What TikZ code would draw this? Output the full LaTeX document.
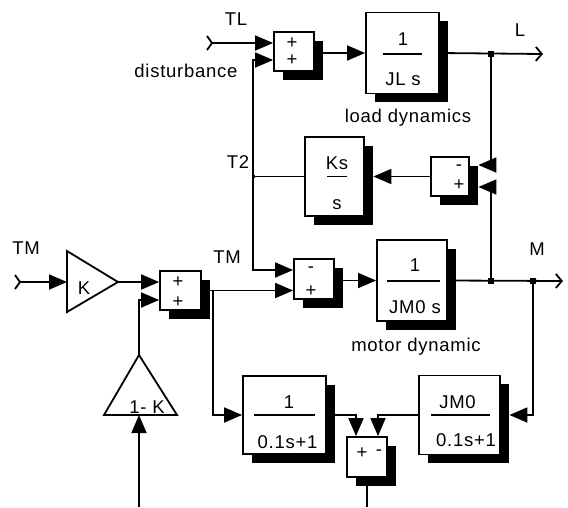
\documentclass[tikz,border=0pt]{standalone}
\usepackage{fontspec}
\newfontfamily\lblfont[LetterSpace=4]{Liberation Sans}
\usetikzlibrary{arrows.meta,shadows}

\tikzset{
  blk/.style={draw, fill=white, line width=1.8pt, inner sep=0pt,
    general shadow={fill=black, shadow xshift=8.5pt, shadow yshift=-8.5pt}},
  sig/.style={line width=1.8pt},
  arr/.style={sig, -{Triangle[length=18pt,width=15pt]}},
  outp/.style={sig, -{Straight Barb[length=6pt,width=14pt]}},
  txt/.style={font=\lblfont\fontsize{18.5}{20}\selectfont, inner sep=0pt},
  dot/.style={fill, rectangle, inner sep=0pt, minimum size=6pt},
}

\begin{document}
\begin{tikzpicture}[x=1pt, y=-1pt]
    \useasboundingbox (0,0) rectangle (568,507);

    % Load side
    \node[blk, minimum width=40, minimum height=39] (sum1) at (294,51.5) {};
    \node[txt] (sum1a) at (292,43) {+};
    \node[txt] (sum1b) at (292,60) {+};
    \coordinate (tlin) at (212,43);
    \node[txt] (tllbl) at (236,19) {TL};
    \node[txt] (distlbl) at (186,71) {disturbance};

    \node[blk, minimum width=73, minimum height=81] (load) at (402.5,53) {};
    \node[txt] (loadnum) at (403,39) {1};
    \node[txt] (loadden) at (403,79) {JL s};
    \draw[sig] (383,54) -- (422,54);
    \node[txt] (loadlbl) at (408,118) {load dynamics};

    \node[dot] (jl) at (491,54) {};
    \coordinate (lout) at (543,54);
    \node[txt] (llbl) at (520,30) {L};

    % Spring
    \node[blk, minimum width=38, minimum height=39] (sum3) at (450,176.5) {};
    \node[txt] (sum3a) at (459,168) {-};
    \node[txt] (sum3b) at (459,185) {+};

    \node[blk, minimum width=59, minimum height=79] (ks) at (334.5,176.5) {};
    \node[txt] (ksnum) at (337,163) {Ks};
    \node[txt] (ksden) at (337,205) {s};
    \draw[sig] (327,176.5) -- (347,176.5);
    \node[dot, minimum size=3pt] (t2) at (253,176.5) {};
    \node[txt] (t2lbl) at (238,162) {T2};

    % Motor side
    \coordinate (tmin) at (20,282);
    \node[txt] (tmlbl) at (26,248) {TM};
    \coordinate (kin) at (67,282);
    \coordinate (kout) at (118,282);
    \draw[sig] (67,251) -- (kout) -- (67,312) -- cycle;
    \node[txt] (klbl) at (84,288) {K};

    \node[blk, minimum width=41, minimum height=39] (sum2) at (180.5,290.5) {};
    \node[txt] (sum2a) at (178,282) {+};
    \node[txt] (sum2b) at (178,302) {+};
    \node[txt] (tm2lbl) at (227,257) {TM};
    \coordinate (br) at (213,290.5);

    \coordinate (omkin) at (139,415);
    \coordinate (omkout) at (139,355);
    \coordinate (omkfeed) at (139,507);
    \draw[sig] (104,415) -- (omkout) -- (177,415) -- cycle;
    \node[txt] (omklbl) at (147,407) {1- K};

    \node[blk, minimum width=40, minimum height=40] (sum4) at (314,279) {};
    \node[txt] (sum4a) at (311,270) {-};
    \node[txt] (sum4b) at (311,291) {+};

    \node[blk, minimum width=70, minimum height=81] (motor) at (412,280.5) {};
    \node[txt] (motornum) at (415,265) {1};
    \node[txt] (motorden) at (415,307) {JM0 s};
    \draw[sig] (387,281) -- (440,281);
    \node[txt] (motorlbl) at (416,347) {motor dynamic};

    \node[dot] (jm1) at (491,281) {};
    \node[dot] (jm2) at (533,281) {};
    \coordinate (mout) at (563,281);
    \node[txt] (mlbl) at (537,249) {M};

    % Filters
    \node[blk, minimum width=83, minimum height=78] (low) at (284.5,415) {};
    \node[txt] (lownum) at (289,402) {1};
    \node[txt] (lowden) at (287.5,442) {0.1s+1};
    \draw[sig] (254,415) -- (315,415);

    \node[blk, minimum width=81, minimum height=79] (jm0) at (459.5,415) {};
    \node[txt] (jm0num) at (457.5,402) {JM0};
    \node[txt] (jm0den) at (466,440) {0.1s+1};
    \draw[sig] (431,415) -- (490,415);

    \node[blk, minimum width=40, minimum height=40] (sum5) at (367,457) {};
    \node[txt] (sum5a) at (362,453) {+};
    \node[txt] (sum5b) at (379,453) {-};
    \coordinate (s5out) at (367,507);

    % Input ports
    \draw[sig] (tlin) ++(-5,-7) -- (tlin) -- ++(-5,7);
    \draw[sig] (tmin) ++(-5,-7) -- (tmin) -- ++(-5,7);

    % Signals
    \draw[arr] (tlin) -- (sum1.west |- tlin);
    \draw[arr] (t2) |- ([yshift=-8.5pt]sum1.west);
    \draw[arr] (sum1.east |- load.west) -- (load.west);
    \draw[outp] (load.east) -- (lout);
    \draw[arr] (jl) |- ([xshift=8.5pt,yshift=11.5pt]sum3.east);
    \draw[arr] (jm1) |- ([xshift=8.5pt,yshift=-10.5pt]sum3.east);
    \draw[arr] (sum3.west) -- ([xshift=8.5pt]ks.east);
    \draw[sig] (ks.west) -- (t2);
    \draw[arr] (t2) |- ([yshift=9pt]sum4.west);

    \draw[arr] (tmin) -- (kin);
    \draw[arr] (kout) -- ([yshift=8.5pt]sum2.west);
    \draw[arr] (omkfeed) -- (omkin);
    \draw[arr] (omkout) |- ([yshift=-9.5pt]sum2.west);
    \draw[arr] (sum2.east) -- ([yshift=-11.5pt]sum4.west);
    \draw[arr] (br) |- (low.west);
    \draw[arr] (sum4.east |- motor.west) -- (motor.west);
    \draw[outp] (motor.east) -- (mout);

    \draw[arr] (jm2) |- ([xshift=8.5pt]jm0.east);
    \draw[arr] (jm0.west) -| ([xshift=11pt]sum5.north);
    \draw[arr] (low.east) -| ([xshift=-11pt]sum5.north);
    \draw[sig] (sum5.south) -- (s5out);
  \end{tikzpicture}
\end{document}
